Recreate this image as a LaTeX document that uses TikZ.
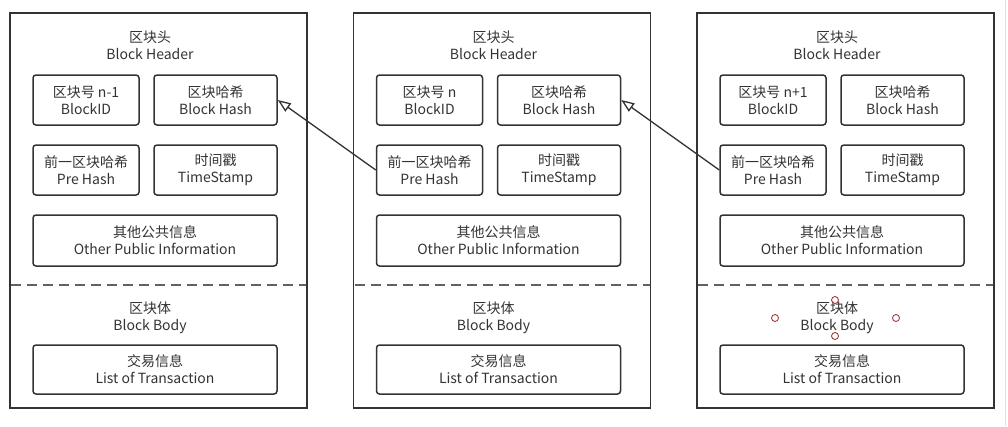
\documentclass[tikz,border=0pt]{standalone}
\usepackage{fontspec}
\setmainfont{Noto Sans CJK SC}
\usetikzlibrary{arrows.meta}
\definecolor{ink}{HTML}{333333}
\definecolor{handlered}{HTML}{A33B3B}

\begin{document}
\begin{tikzpicture}[x=1pt,y=-1pt,
  every node/.style={text=ink, font=\fontsize{14}{17}\selectfont, align=center, inner sep=0pt},
  blk/.style={draw=ink, line width=1.8pt},
  fld/.style={draw=ink, line width=1.5pt, rounded corners=3pt, minimum height=50pt},
  sep/.style={draw=black!62, line width=2pt, dash pattern=on 10pt off 6pt},
  link/.style={draw=ink, line width=1.3pt, -{Triangle[open,length=13pt,width=10pt]}},
  handle/.style={draw=handlered, line width=0.9pt}]
\useasboundingbox (0,0) rectangle (1008,426);
\draw[black!12, line width=1pt] (1005,0) -- (1005,426);
\foreach \i/\n in {0/n-1,1/n,2/n+1}{
  \begin{scope}[xshift=\i*343.5pt]
    \node[blk, minimum width=297pt, minimum height=395pt] (blk\i) at (158.5,210.5) {};
    \node (head\i) at (150,45) {区块头\\Block Header};
    \node[fld, minimum width=106pt] (id\i) at (86,100) {区块号 \n\\BlockID};
    \node[fld, minimum width=123pt] (hash\i) at (215.5,100) {区块哈希\\Block Hash};
    \node[fld, minimum width=106pt] (pre\i) at (86,170) {前一区块哈希\\Pre Hash};
    \node[fld, minimum width=123pt] (time\i) at (215.5,170) {时间戳\\TimeStamp};
    \node[fld, minimum width=244pt, minimum height=51pt] (other\i) at (155,240.5) {其他公共信息\\Other Public Information};
    \draw[sep] (11,285) -- (306,285);
    \node (body\i) at (150,318) {区块体\\Block Body};
    \node[fld, minimum width=244pt, minimum height=49pt] (tx\i) at (155,369.5) {交易信息\\List of Transaction};
  \end{scope}
}
\draw[link] (pre1.west) -- (hash0.east);
\draw[link] (pre2.west) -- (hash1.east);
% selection handles
\foreach \p in {(775,318),(896,318),(835,300),(835,336)}
  \draw[handle] \p circle (3.5pt);
\end{tikzpicture}
\end{document}
